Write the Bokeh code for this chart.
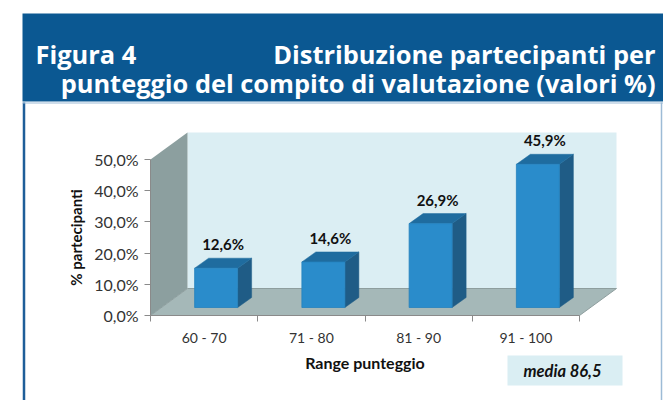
from bokeh.plotting import figure
from bokeh.models import Range1d, LinearAxis, FixedTicker, ColumnDataSource
from bokeh.core.properties import value
from bokeh.embed import file_html
from bokeh.resources import INLINE

# ---------------- data ----------------
categories = ["60 - 70", "71 - 80", "81 - 90", "91 - 100"]
values = [12.6, 14.6, 26.9, 45.9]
y_ticks = [0, 10, 20, 30, 40, 50]
y_tick_labels = ["0,0%", "10,0%", "20,0%", "30,0%", "40,0%", "50,0%"]
title_left = "Figura 4"
title_right = "Distribuzione partecipanti per"
title_line2 = "punteggio del compito di valutazione (valori %)"
x_title = "Range punteggio"
y_title = "% partecipanti"
note = "media 86,5"

# ---------------- geometry (pixel calibration) ----------------
W, H = 663, 400
OX, OY = 0, 0                  # pixel of canvas top-left in reference coords
PX0, PY0 = 150.0, 315.0        # pixel of (x=0, y=0%)
PX_PER_CAT = 107.25
PX_PER_PCT = 3.12
def X(px): return (px - PX0) / PX_PER_CAT
def Y(py): return (PY0 - py) / PX_PER_PCT

p = figure(width=W, height=H, output_backend="svg", toolbar_location=None,
           x_range=Range1d(X(OX), X(OX + W)), y_range=Range1d(Y(OY + H), Y(OY)),
           min_border=0, x_axis_type=None, y_axis_type=None)
p.outline_line_color = None
p.grid.visible = False
p.background_fill_color = "white"
p.border_fill_color = "white"

# header band
p.quad(left=X(22), right=X(700), top=Y(13), bottom=Y(101), fill_color="#0B5892", line_color=None)
# content box borders
p.line([X(23.5), X(23.5)], [Y(102), Y(420)], line_color="#1E5E99", line_width=2.5)
p.line([X(22), X(700)], [Y(102.5), Y(102.5)], line_color="#9DBBD6", line_width=1)
p.line([X(661), X(661)], [Y(102), Y(420)], line_color="#9DBBD6", line_width=1.5)

hfont = value("Open Sans")
HS = "25.4px"
p.text(x=[X(35)], y=[Y(53)], text=[title_left], text_font=hfont, text_font_style="bold",
       text_font_size=HS, text_color="white", text_align="left", text_baseline="alphabetic")
p.text(x=[X(655)], y=[Y(53)], text=[title_right], text_font=hfont, text_font_style="bold",
       text_font_size=HS, text_color="white", text_align="right", text_baseline="alphabetic")
p.text(x=[X(655)], y=[Y(82)], text=[title_line2], text_font=hfont, text_font_style="bold",
       text_font_size=HS, text_color="white", text_align="right", text_baseline="alphabetic")

# ---------------- 3D chart frame ----------------
n = len(categories)
ymax = y_ticks[-1]
DX = 37 / PX_PER_CAT     # wall depth offset
DY = 27 / PX_PER_PCT
# back wall
p.quad(left=DX, right=n + DX, bottom=DY, top=ymax + DY, fill_color="#DBEEF3", line_color=None)
# side wall
p.patch([0, 0, DX, DX], [0, ymax, ymax + DY, DY], fill_color="#8C9F9F", line_color=None)
# floor
p.patch([0, n, n + DX, DX], [0, 0, DY, DY], fill_color="#A5B8B8", line_color="#8E9E9E", line_width=1)

# bars
BW = 43 / PX_PER_CAT
OFFX = 12 / PX_PER_CAT
BASE = 8 / PX_PER_PCT
DDX = 14 / PX_PER_CAT
DDY = 10 / PX_PER_PCT
lefts = [i + 0.5 + OFFX - BW / 2 for i in range(n)]
rights = [l + BW for l in lefts]
tops = [BASE + v for v in values]
side_xs = [[r, r, r + DDX, r + DDX] for r in rights]
side_ys = [[BASE, t, t + DDY, BASE + DDY] for t in tops]
top_xs = [[l, r, r + DDX, l + DDX] for l, r in zip(lefts, rights)]
top_ys = [[t, t, t + DDY, t + DDY] for t in tops]
p.patches(side_xs, side_ys, fill_color="#1F5C86", line_color="#1F5C86", line_width=0.5)
p.patches(top_xs, top_ys, fill_color="#1F6C9F", line_color="#1F6C9F", line_width=0.5)
p.quad(left=lefts, right=rights, bottom=[BASE] * n, top=tops, fill_color="#2A8CCB",
       line_color="#2582BE", line_width=0.8)

labels = [f"{v:.1f}".replace(".", ",") + "%" for v in values]
lsrc = ColumnDataSource(dict(x=[(l + r + DDX) / 2 for l, r in zip(lefts, rights)],
                             y=[t + DDY + 14 / PX_PER_PCT for t in tops], text=labels))
p.text(x="x", y="y", text="text", source=lsrc, text_font=value("Lato"), text_font_style="bold",
       text_font_size="15px", text_color="#111111", text_align="center", text_baseline="middle")

# ---------------- axes ----------------
lab_font = "Lato"
yax = LinearAxis(fixed_location=0, ticker=FixedTicker(ticks=y_ticks), bounds=(0, ymax),
                 major_label_overrides={t: s for t, s in zip(y_ticks, y_tick_labels)})
yax.axis_line_color = "#8A8A8A"
yax.major_tick_line_color = "#8A8A8A"
yax.major_tick_out = 6
yax.major_tick_in = 0
yax.minor_tick_line_color = None
yax.major_label_text_font = lab_font
yax.major_label_text_font_size = "16px"
yax.major_label_text_color = "#333333"
yax.major_label_standoff = 6
yax.axis_label = y_title
yax.axis_label_text_font = lab_font
yax.axis_label_text_font_style = "bold"
yax.axis_label_text_font_size = "15px"
yax.axis_label_text_color = "#111111"
yax.axis_label_standoff = 6
p.add_layout(yax, "left")

# tick marks at category boundaries
xax_t = LinearAxis(fixed_location=0, ticker=FixedTicker(ticks=list(range(n + 1))), bounds=(0, n))
xax_t.axis_line_color = "#8A8A8A"
xax_t.major_tick_line_color = "#8A8A8A"
xax_t.major_tick_out = 6
xax_t.major_tick_in = 0
xax_t.minor_tick_line_color = None
xax_t.major_label_text_alpha = 0
p.add_layout(xax_t, "below")

# category labels
xax = LinearAxis(fixed_location=0, ticker=FixedTicker(ticks=[i + 0.5 for i in range(n)]), bounds=(0, n),
                 major_label_overrides={i + 0.5: c for i, c in enumerate(categories)})
xax.axis_line_color = None
xax.major_tick_line_color = None
xax.minor_tick_line_color = None
xax.major_label_text_font = lab_font
xax.major_label_text_font_size = "14px"
xax.major_label_text_color = "#333333"
xax.major_label_standoff = 7
xax.axis_label = x_title
xax.axis_label_text_font = lab_font
xax.axis_label_text_font_style = "bold"
xax.axis_label_text_font_size = "16px"
xax.axis_label_text_color = "#111111"
xax.axis_label_standoff = 4
p.add_layout(xax, "below")

# note box
p.quad(left=X(507), right=X(622), top=Y(355), bottom=Y(385), fill_color="#DAEEF3", line_color=None)
p.text(x=[X(562)], y=[Y(370)], text=[note], text_font=value("Lato"), text_font_style="bold italic",
       text_font_size="16.5px", text_color="#111111", text_align="center", text_baseline="middle")

open("out.html", "w").write(file_html(p, INLINE))
